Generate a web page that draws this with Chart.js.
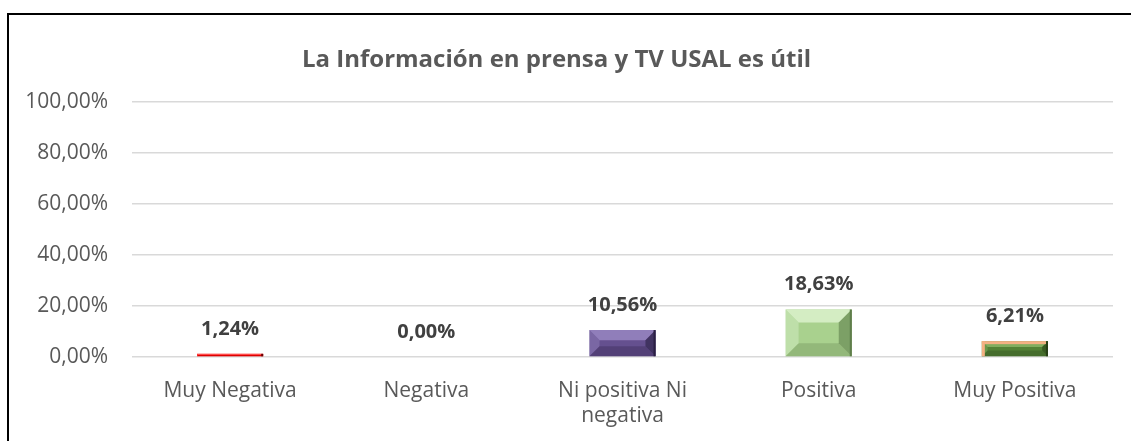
<!DOCTYPE html>
<html>
<head>
<meta charset="utf-8">
<script src="https://cdn.jsdelivr.net/npm/chart.js@4/dist/chart.umd.min.js"></script>
<style>
html,body{margin:0;padding:0;background:#fff;}
#wrap{position:relative;width:1131px;height:441px;}
#frame{position:absolute;left:7px;top:13px;right:0;bottom:0;border-left:2px solid #000;border-top:2px solid #000;pointer-events:none;}
canvas{position:absolute;left:0;top:0;}
</style>
</head>
<body>
<div id="wrap">
<canvas id="c" width="1131" height="441"></canvas>
<div id="frame"></div>
</div>
<script>
const TITLE='La Información en prensa y TV USAL es útil';
const CATEGORIES=['Muy Negativa','Negativa',['Ni positiva Ni','negativa'],'Positiva','Muy Positiva'];
const VALUES=[1.24,0,10.56,18.63,6.21];
const Y_TICKS=[0,20,40,60,80,100];

// base / light / dark / border per bar
const BAR_BASE=['#ff0000','#7030a0','#65508f','#a9d18e','#548235'];
const BAR_LIGHT=['#ff6a6a','#9a6cc4','#9583bf','#d8efc9','#86b263'];
const BAR_DARK=['#6a0000','#3a1556','#2a1f42','#5f7e4b','#263f16'];
const BAR_EDGE=[null,null,null,null,'#f4b183'];

const FONT='"Open Sans", sans-serif';
const GREY='#595959';

function fmt(v){return v.toFixed(2).replace('.',',')+'%';}

const bevelPlugin={
  id:'bevel',
  afterDatasetsDraw(chart){
    const ctx=chart.ctx;
    const meta=chart.getDatasetMeta(0);
    meta.data.forEach((bar,i)=>{
      const p=bar.getProps(['x','y','base','width'],true);
      const l=p.x-p.width/2, r=p.x+p.width/2, t=Math.min(p.y,p.base), b=Math.max(p.y,p.base);
      const h=b-t, w=r-l;
      if(h<0.5) return;
      ctx.save();
      ctx.fillStyle=BAR_BASE[i];
      ctx.fillRect(l,t,w,h);
      const s=Math.min(13,h/2.6,w/2.6);
      // top
      ctx.fillStyle=BAR_LIGHT[i];
      ctx.globalAlpha=0.9;
      ctx.beginPath();ctx.moveTo(l,t);ctx.lineTo(r,t);ctx.lineTo(r-s,t+s);ctx.lineTo(l+s,t+s);ctx.closePath();ctx.fill();
      // left
      ctx.globalAlpha=0.45;
      ctx.beginPath();ctx.moveTo(l,t);ctx.lineTo(l+s,t+s);ctx.lineTo(l+s,b-s);ctx.lineTo(l,b);ctx.closePath();ctx.fill();
      // right
      ctx.fillStyle=BAR_DARK[i];
      ctx.globalAlpha=0.6;
      ctx.beginPath();ctx.moveTo(r,t);ctx.lineTo(r,b);ctx.lineTo(r-s,b-s);ctx.lineTo(r-s,t+s);ctx.closePath();ctx.fill();
      // bottom
      ctx.globalAlpha=0.3;
      ctx.beginPath();ctx.moveTo(l,b);ctx.lineTo(r,b);ctx.lineTo(r-s,b-s);ctx.lineTo(l+s,b-s);ctx.closePath();ctx.fill();
      ctx.globalAlpha=1;
      // dark right rim
      ctx.fillStyle=BAR_DARK[i];
      ctx.fillRect(r-2,t,2,h);
      if(BAR_EDGE[i]){
        ctx.fillStyle=BAR_EDGE[i];
        ctx.fillRect(l,t,w-2,3);
        ctx.fillRect(l,t,3,h);
      }
      ctx.restore();
    });
  }
};

const labelPlugin={
  id:'valueLabels',
  afterDatasetsDraw(chart){
    const ctx=chart.ctx;
    const meta=chart.getDatasetMeta(0);
    ctx.save();
    ctx.font='bold 20px '+FONT;
    ctx.fillStyle='#404040';
    ctx.textAlign='center';
    ctx.textBaseline='middle';
    meta.data.forEach((bar,i)=>{
      ctx.fillText(fmt(VALUES[i]),bar.x,bar.y-25);
    });
    ctx.restore();
  }
};

new Chart(document.getElementById('c').getContext('2d'),{
  type:'bar',
  data:{
    labels:CATEGORIES,
    datasets:[{
      data:VALUES,
      backgroundColor:'rgba(0,0,0,0)',
      borderWidth:0,
      barPercentage:0.337,
      categoryPercentage:1
    }]
  },
  options:{
    responsive:false,
    animation:false,
    layout:{padding:{left:0,right:18,top:0,bottom:0}},
    plugins:{
      legend:{display:false},
      tooltip:{enabled:false},
      title:{
        display:true,
        text:TITLE,
        color:GREY,
        font:{family:FONT,size:24,weight:'bold'},
        padding:{top:46,bottom:27}
      }
    },
    scales:{
      x:{
        grid:{display:false,drawTicks:false},
        border:{display:false},
        ticks:{color:GREY,font:{family:FONT,size:21},padding:21,maxRotation:0,autoSkip:false},
        afterFit(s){s.height=84;}
      },
      y:{
        min:0,max:100,
        afterBuildTicks(s){s.ticks=Y_TICKS.map(v=>({value:v}));},
        grid:{color:'#d9d9d9',lineWidth:1.5,drawTicks:false},
        border:{display:false},
        ticks:{color:GREY,font:{family:FONT,size:21},padding:24,callback:v=>fmt(v)},
        afterFit(s){s.width=132;}
      }
    }
  },
  plugins:[bevelPlugin,labelPlugin]
});
</script>
</body>
</html>
